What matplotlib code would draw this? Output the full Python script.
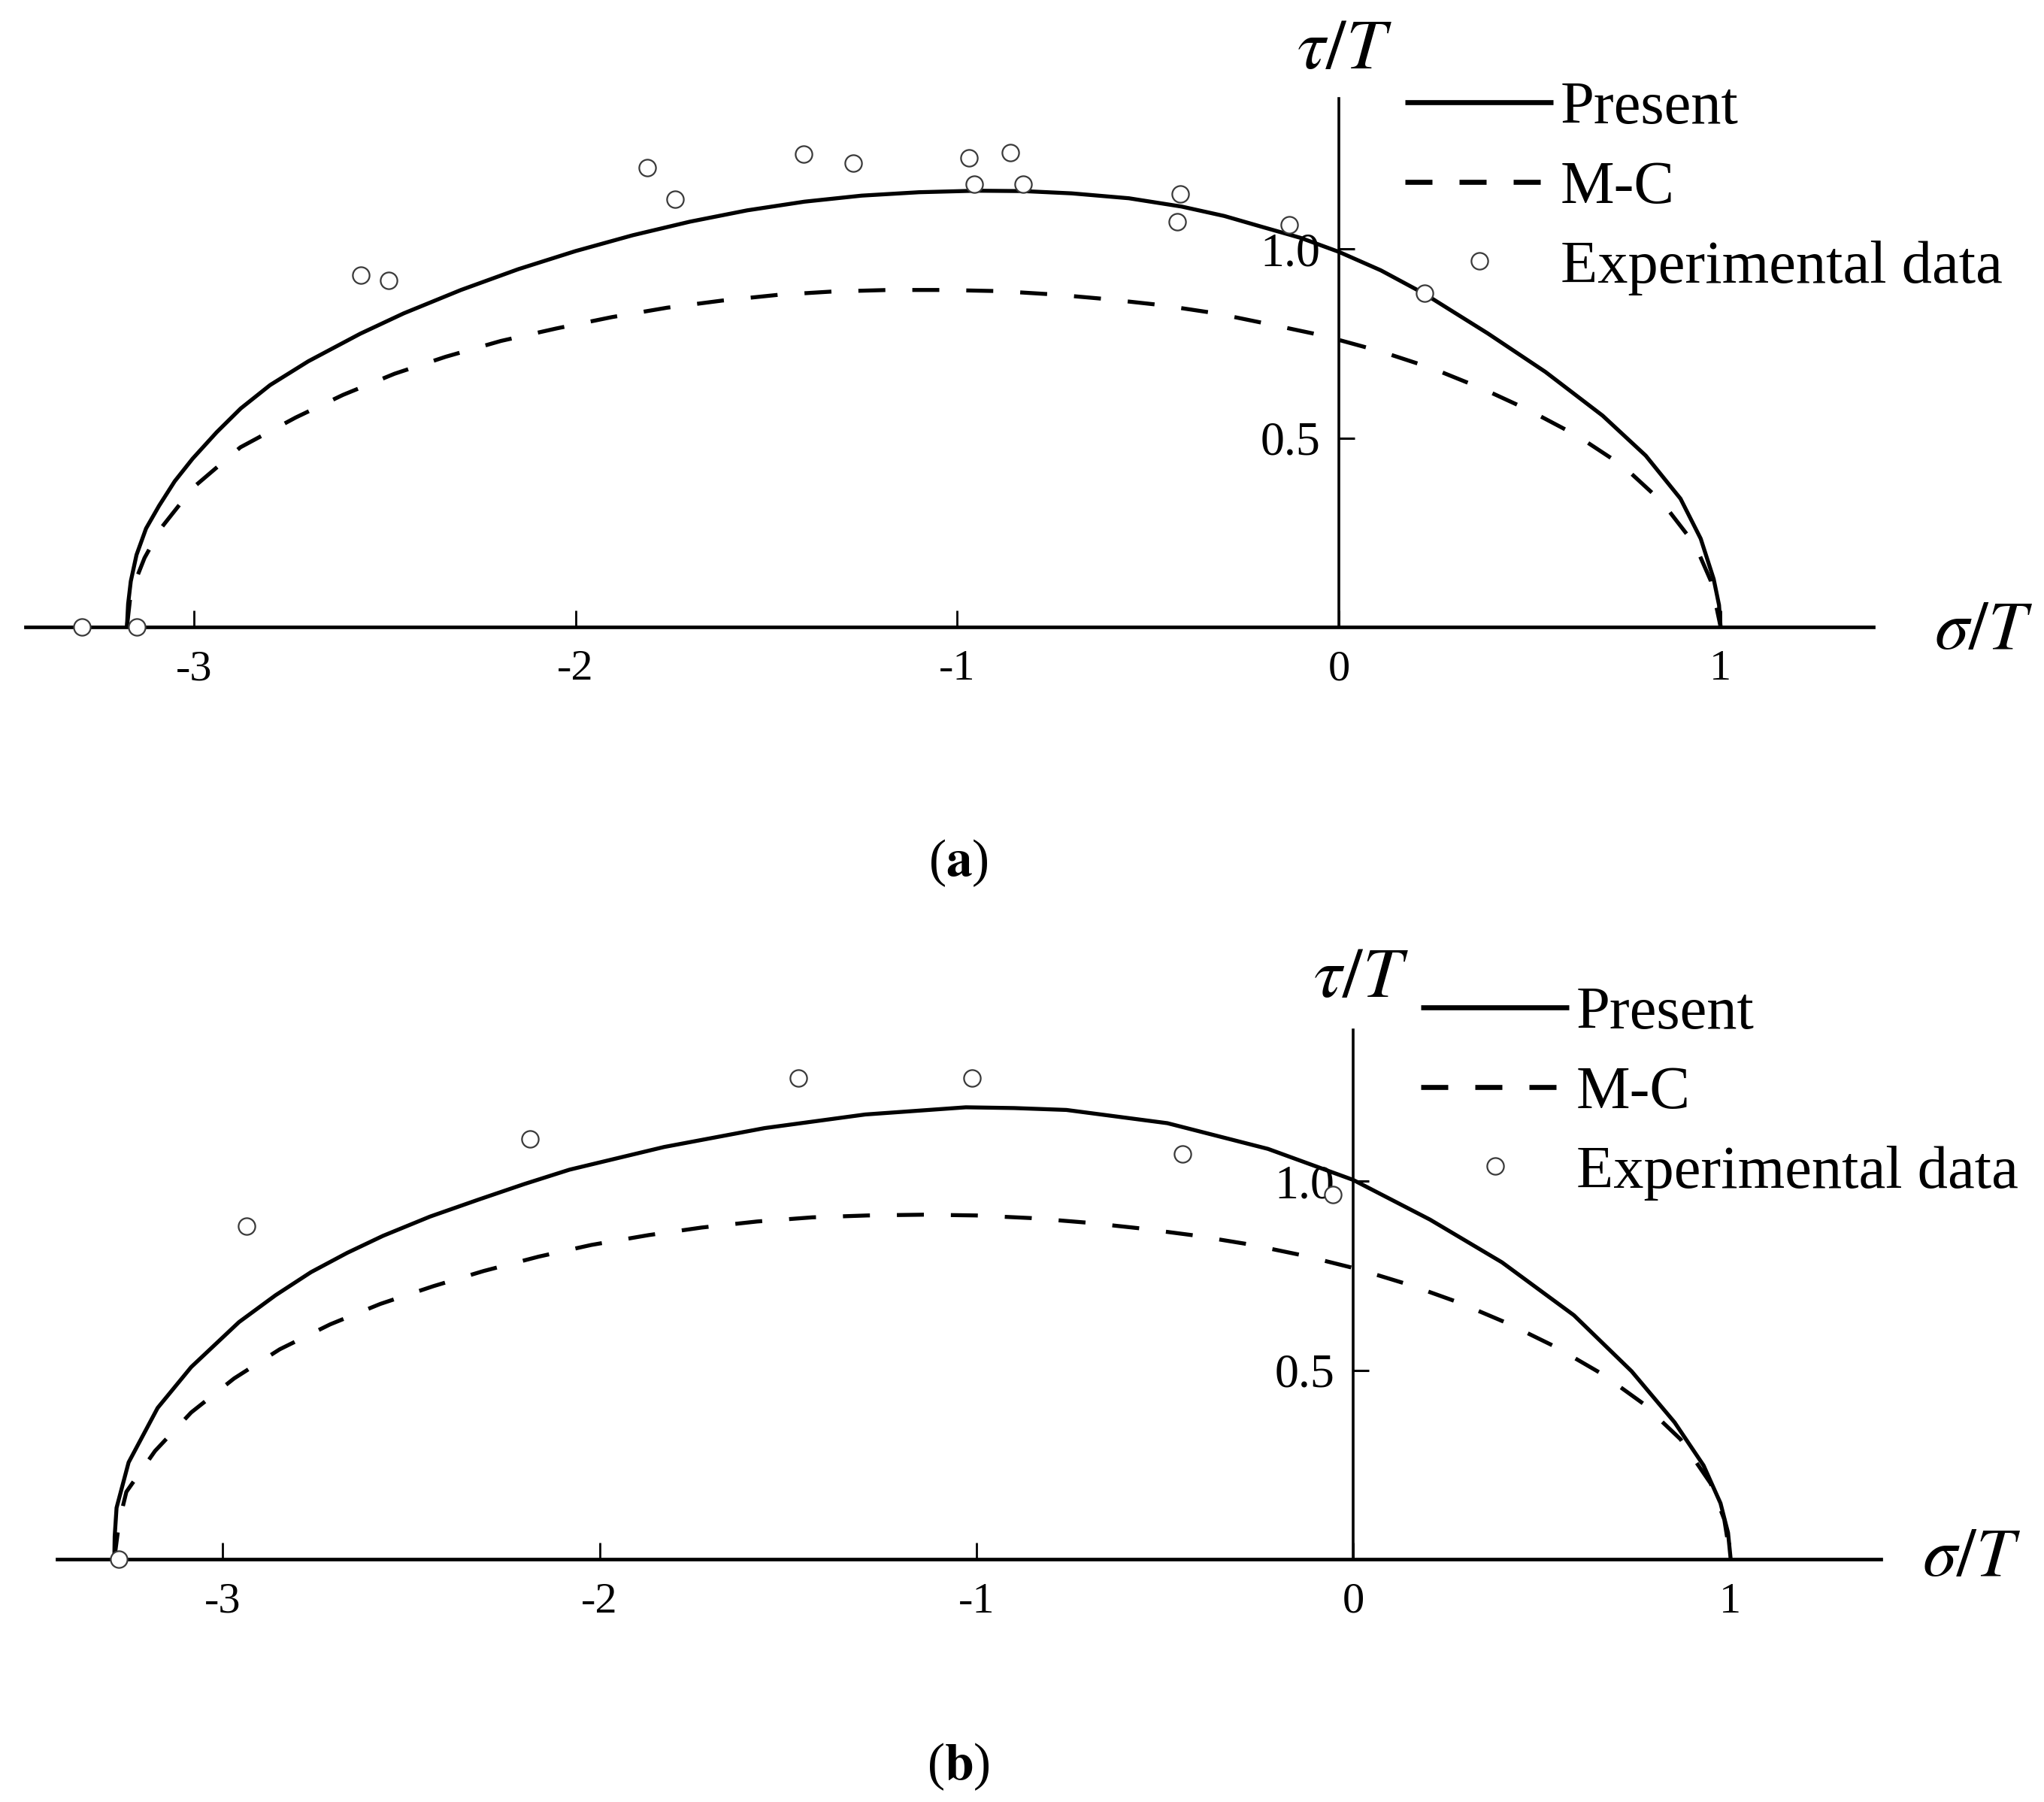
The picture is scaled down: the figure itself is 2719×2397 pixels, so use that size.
import matplotlib
matplotlib.use("Agg")
import matplotlib.pyplot as plt

plt.rcParams['font.family'] = ['Liberation Serif', 'DejaVu Serif']
plt.rcParams['mathtext.fontset'] = 'stix'
plt.rcParams['axes.unicode_minus'] = False

# ---------------- data: panel (a) ----------------
a_present_x = [-3.175, -3.172, -3.165, -3.150, -3.125, -3.091, -3.050, -3.003, -2.940, -2.877,
               -2.800, -2.700, -2.564, -2.450, -2.300, -2.150, -2.000, -1.850, -1.700, -1.550,
               -1.400, -1.250, -1.100, -0.950, -0.826, -0.700, -0.550, -0.412, -0.300, -0.204,
               -0.100, 0.000, 0.110, 0.224, 0.390, 0.541, 0.691, 0.804, 0.895, 0.948,
               0.982, 0.996, 1.000]
a_present_y = [0.000, 0.060, 0.120, 0.190, 0.260, 0.320, 0.385, 0.445, 0.515, 0.578,
               0.640, 0.703, 0.776, 0.830, 0.892, 0.947, 0.995, 1.037, 1.073, 1.103,
               1.126, 1.142, 1.151, 1.155, 1.154, 1.148, 1.135, 1.113, 1.088, 1.060,
               1.030, 0.993, 0.944, 0.882, 0.777, 0.675, 0.559, 0.453, 0.339, 0.233,
               0.126, 0.057, 0.000]

a_mc_x = [-3.175, -3.165, -3.129, -3.085, -3.002, -2.878, -2.733, -2.609, -2.474, -2.340,
          -2.195, -2.050, -1.905, -1.760, -1.615, -1.470, -1.325, -1.180, -1.035, -0.890,
          -0.745, -0.611, -0.466, -0.321, -0.186, -0.041, 0.107, 0.243, 0.375, 0.495,
          0.624, 0.744, 0.846, 0.933, 0.975, 1.000]
a_mc_y = [0.000, 0.090, 0.182, 0.262, 0.368, 0.475, 0.554, 0.614, 0.670, 0.715,
          0.757, 0.790, 0.820, 0.845, 0.864, 0.879, 0.888, 0.892, 0.892, 0.889,
          0.880, 0.868, 0.852, 0.830, 0.802, 0.771, 0.730, 0.685, 0.631, 0.575,
          0.506, 0.426, 0.331, 0.217, 0.120, 0.000]

a_exp_x = [-3.292, -3.150, -2.563, -2.490, -1.812, -1.739, -1.403, -1.272, -0.968, -0.861,
           -0.955, -0.827, -0.416, -0.423, -0.130, 0.224]
a_exp_y = [0.000, 0.000, 0.931, 0.918, 1.217, 1.133, 1.252, 1.229, 1.242, 1.255,
           1.172, 1.172, 1.146, 1.073, 1.065, 0.883]

# ---------------- data: panel (b) ----------------
b_present_x = [-3.288, -3.287, -3.282, -3.250, -3.173, -3.084, -2.957, -2.860, -2.766, -2.670,
               -2.575, -2.450, -2.321, -2.200, -2.080, -1.829, -1.562, -1.295, -1.028, -0.900,
               -0.761, -0.493, -0.226, 0.000, 0.204, 0.395, 0.586, 0.739, 0.853, 0.930,
               0.975, 0.995, 1.002]
b_present_y = [0.000, 0.060, 0.136, 0.256, 0.400, 0.508, 0.627, 0.698, 0.759, 0.810,
               0.855, 0.906, 0.951, 0.992, 1.030, 1.090, 1.140, 1.176, 1.195, 1.193,
               1.188, 1.153, 1.085, 1.003, 0.898, 0.785, 0.645, 0.497, 0.362, 0.248,
               0.148, 0.070, 0.000]

b_mc_x = [-3.288, -3.275, -3.256, -3.180, -3.084, -2.970, -2.849, -2.715, -2.582, -2.441,
          -2.308, -2.162, -2.022, -1.870, -1.729, -1.582, -1.435, -1.288, -1.141, -1.001,
          -0.854, -0.707, -0.567, -0.420, -0.273, -0.132, 0.013, 0.151, 0.277, 0.407,
          0.536, 0.662, 0.769, 0.869, 0.949, 0.985, 1.002]
b_mc_y = [0.000, 0.100, 0.178, 0.286, 0.388, 0.478, 0.555, 0.621, 0.675, 0.722,
          0.762, 0.800, 0.831, 0.857, 0.877, 0.893, 0.904, 0.909, 0.911, 0.909,
          0.902, 0.890, 0.875, 0.856, 0.832, 0.803, 0.767, 0.725, 0.680, 0.625,
          0.562, 0.489, 0.412, 0.317, 0.200, 0.105, 0.000]

b_exp_x = [-3.276, -2.936, -2.185, -1.472, -1.012, -0.453, -0.054]
b_exp_y = [0.000, 0.881, 1.112, 1.273, 1.273, 1.072, 0.965]

x_ticks = [-3, -2, -1, 0, 1]
x_ticklabels = ['-3', '-2', '-1', '0', '1']
y_ticks = [0.5, 1.0]
y_ticklabels = ['0.5', '1.0']
labels = ['Present', 'M-C', 'Experimental data']

W, H = 2719, 2397
fig = plt.figure(figsize=(W / 100, H / 100), dpi=100)

XLIM = (-3.5, 1.5)
YLIM = (-0.1, 1.45)


def place(ax, x0px, ux, y0px, uy):
    left = (x0px + XLIM[0] * ux) / W
    width = (XLIM[1] - XLIM[0]) * ux / W
    bottom = 1 - (y0px - YLIM[0] * uy) / H
    height = (YLIM[1] - YLIM[0]) * uy / H
    ax.set_position([left, bottom, width, height])


def panel(ax, px, py, mx, my, ex, ey, legend_anchor, tau_pos, sigma_pos):
    ax.set_xlim(*XLIM)
    ax.set_ylim(*YLIM)
    l1, = ax.plot(px, py, color='black', lw=3.8, solid_joinstyle='round',
                  solid_capstyle='butt', zorder=3)
    l2, = ax.plot(mx, my, color='black', lw=3.8, linestyle=(0, (6.8, 6.8)),
                  dash_joinstyle='round', zorder=3)
    l3, = ax.plot(ex, ey, linestyle='none', marker='o', markersize=16,
                  markerfacecolor='white', markeredgecolor='#3a3a3a',
                  markeredgewidth=1.6, zorder=4)
    for s in ['top', 'right']:
        ax.spines[s].set_visible(False)
    ax.spines['bottom'].set_position(('data', 0))
    ax.spines['bottom'].set_bounds(-3.44, 1.40)
    ax.spines['bottom'].set_linewidth(3.4)
    ax.spines['left'].set_position(('data', 0))
    ax.spines['left'].set_bounds(0, 1.40)
    ax.spines['left'].set_linewidth(2.6)
    ax.set_xticks(x_ticks)
    ax.set_xticklabels(x_ticklabels)
    ax.set_yticks(y_ticks)
    ax.set_yticklabels(y_ticklabels)
    ax.tick_params(axis='x', direction='in', length=16, width=2.0, pad=22, labelsize=42)
    ax.tick_params(axis='y', direction='in', length=15, width=2.2, pad=18, labelsize=46)
    ax.patch.set_visible(False)
    ax.text(tau_pos[0], tau_pos[1], r'$\tau/T$', fontsize=68, ha='center', va='center',
            clip_on=False)
    ax.text(sigma_pos[0], sigma_pos[1], r'$\sigma/T$', fontsize=66, ha='left', va='center',
            clip_on=False)
    leg = ax.legend([l1, l2, l3], labels, loc='upper left',
                    bbox_to_anchor=legend_anchor, bbox_transform=fig.transFigure,
                    frameon=False, fontsize=58, borderpad=0, borderaxespad=0,
                    handlelength=2.45, handletextpad=0.12, labelspacing=0.40,
                    numpoints=1)
    hl = leg.get_lines()
    hl[0].set_linewidth(4.8)
    hl[1].set_linewidth(4.8)
    hl[1].set_linestyle((0, (5.4, 5.4)))


ax_a = fig.add_axes([0, 0, 1, 1])
place(ax_a, 1781, 507.75, 833.5, 502)
panel(ax_a, a_present_x, a_present_y, a_mc_x, a_mc_y, a_exp_x, a_exp_y,
      (1869 / W, 1 - 108 / H), (0.015, 1.523), (1.560, -0.015))

ax_b = fig.add_axes([0, 0, 1, 1])
place(ax_b, 1800, 501.2, 2074, 503)
panel(ax_b, b_present_x, b_present_y, b_mc_x, b_mc_y, b_exp_x, b_exp_y,
      (1890 / W, 1 - 1312 / H), (0.02, 1.531), (1.510, 0.0))

fig.text(1274.5 / W, 1 - 1148 / H, r'($\mathbf{a}$)', fontsize=50, ha='center', va='center')
fig.text(1274.5 / W, 1 - 2350 / H, r'($\mathbf{b}$)', fontsize=50, ha='center', va='center')

fig.savefig('out.png', dpi=100)
